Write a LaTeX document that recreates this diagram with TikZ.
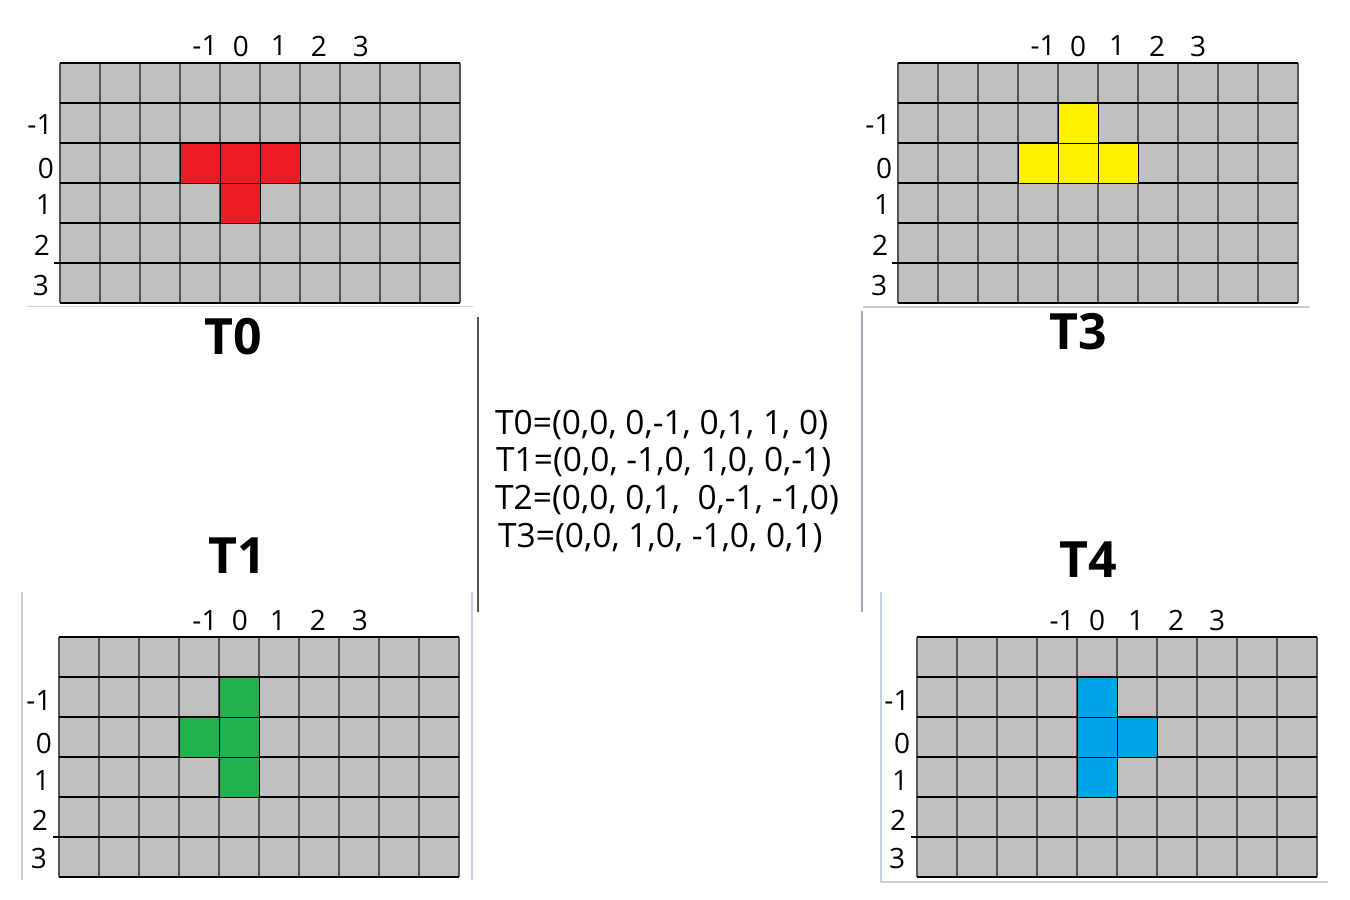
\documentclass[tikz,border=0pt]{standalone}
\usepackage{fontspec}
\setmainfont{Open Sans}
\definecolor{cellgray}{RGB}{192,192,192}
\definecolor{linegray}{RGB}{85,85,85}
\definecolor{paneedge}{RGB}{200,208,222}
\definecolor{tred}{RGB}{237,28,36}
\definecolor{tyellow}{RGB}{255,242,0}
\definecolor{tgreen}{RGB}{34,177,76}
\definecolor{tblue}{RGB}{0,162,232}

\begin{document}
\begin{tikzpicture}[x=1pt,y=-1pt,
  vline/.style={draw=linegray,line width=1.6pt},
  hline/.style={draw=black,line width=1.1pt},
  seam/.style={draw=black,line width=2pt},
  block/.style={draw=black,line width=0.8pt},
  tick/.style={inner sep=0pt,font=\fontsize{28}{32}\selectfont},
  title/.style={inner sep=0pt,font=\fontsize{50}{58}\selectfont\bfseries},
  formula/.style={inner sep=0pt,anchor=west,font=\fontsize{33.5}{38}\selectfont},
  edge/.style={draw=paneedge,line width=1.5pt}]
\path[use as bounding box] (0,0) rectangle (1350,900);
\fill[white] (0,0) rectangle (1350,900);

% T0, top left
\begin{scope}[shift={(60,63)},name prefix=t0-]
\fill[cellgray] (0,0) rectangle (400,240);
\foreach \c in {0,...,10} \draw[vline] (\c*40,0) -- (\c*40,240);
\foreach \r in {0,...,6} \draw[hline] (0,\r*40) -- (400,\r*40);
\draw[hline] (-6,200) -- (0,200);
\draw[seam] (42,80) -- (118,80);
\draw[seam] (210,80) -- (280,80);
\fill[tred,block] (120,80) rectangle (160,120);
\fill[tred,block] (160,80) rectangle (200,120);
\fill[tred,block] (200,80) rectangle (240,120);
\fill[tred,block] (160,120) rectangle (200,160);
\foreach \x/\t [count=\i] in {145/-1,181/0,219/1,259/2,301/3}
  \node[tick] (col\i) at (\x,-17) {\t};
\foreach \x/\y/\t [count=\i] in {-20/62/-1,-14/105/0,-16/142/1,-18/182/2,-19/222/3}
  \node[tick] (row\i) at (\x,\y) {\t};
\end{scope}
\node[title] (t0) at (233,337) {T0};

% T3, top right
\begin{scope}[shift={(898,63)},name prefix=t3-]
\fill[cellgray] (0,0) rectangle (400,240);
\foreach \c in {0,...,10} \draw[vline] (\c*40,0) -- (\c*40,240);
\foreach \r in {0,...,6} \draw[hline] (0,\r*40) -- (400,\r*40);
\draw[hline] (-6,200) -- (0,200);
\draw[seam] (42,80) -- (118,80);
\draw[seam] (210,80) -- (280,80);
\fill[tyellow,block] (160,40) rectangle (200,80);
\fill[tyellow,block] (120,80) rectangle (160,120);
\fill[tyellow,block] (160,80) rectangle (200,120);
\fill[tyellow,block] (200,80) rectangle (240,120);
\foreach \x/\t [count=\i] in {145/-1,180/0,219/1,259/2,300/3}
  \node[tick] (col\i) at (\x,-17) {\t};
\foreach \x/\y/\t [count=\i] in {-20/62/-1,-14/105/0,-16/142/1,-18/182/2,-19/222/3}
  \node[tick] (row\i) at (\x,\y) {\t};
\end{scope}
\node[title] (t3) at (1078,332) {T3};

% T1, bottom left
\begin{scope}[shift={(59,637)},name prefix=t1-]
\fill[cellgray] (0,0) rectangle (400,240);
\foreach \c in {0,...,10} \draw[vline] (\c*40,0) -- (\c*40,240);
\foreach \r in {0,...,6} \draw[hline] (0,\r*40) -- (400,\r*40);
\draw[hline] (-6,200) -- (0,200);
\draw[seam] (42,80) -- (118,80);
\draw[seam] (210,80) -- (280,80);
\fill[tgreen,block] (160,40) rectangle (200,80);
\fill[tgreen,block] (120,80) rectangle (160,120);
\fill[tgreen,block] (160,80) rectangle (200,120);
\fill[tgreen,block] (160,120) rectangle (200,160);
\foreach \x/\t [count=\i] in {146/-1,181/0,219/1,259/2,301/3}
  \node[tick] (col\i) at (\x,-17) {\t};
\foreach \x/\y/\t [count=\i] in {-20/63/-1,-15/106/0,-17/143/1,-19/183/2,-20/221/3}
  \node[tick] (row\i) at (\x,\y) {\t};
\end{scope}
\node[title] (t1) at (237,556) {T1};

% T4, bottom right
\begin{scope}[shift={(917,637)},name prefix=t4-]
\fill[cellgray] (0,0) rectangle (400,240);
\foreach \c in {0,...,10} \draw[vline] (\c*40,0) -- (\c*40,240);
\foreach \r in {0,...,6} \draw[hline] (0,\r*40) -- (400,\r*40);
\draw[hline] (-6,200) -- (0,200);
\draw[seam] (42,80) -- (118,80);
\draw[seam] (210,80) -- (280,80);
\fill[tblue,block] (160,40) rectangle (200,80);
\fill[tblue,block] (160,80) rectangle (200,120);
\fill[tblue,block] (200,80) rectangle (240,120);
\fill[tblue,block] (160,120) rectangle (200,160);
\foreach \x/\t [count=\i] in {145/-1,180/0,219/1,259/2,300/3}
  \node[tick] (col\i) at (\x,-17) {\t};
\foreach \x/\y/\t [count=\i] in {-20/63/-1,-15/106/0,-17/143/1,-19/183/2,-20/221/3}
  \node[tick] (row\i) at (\x,\y) {\t};
\end{scope}
\node[title] (t4) at (1088,560) {T4};

% pane edges
\draw[edge] (27,306.5) -- (473,306.5);
\draw[edge] (863,307) -- (1310,307);
\draw[edge] (22,592) -- (22,880);
\draw[edge] (472,592) -- (472,880);
\draw[edge] (881,592) -- (881,882);
\draw[edge] (880,882) -- (1328,882);
\draw[linegray,line width=1.5pt] (478,317) -- (478,612);
\draw[paneedge!80!black,line width=2pt] (862,311) -- (862,612);

% offsets
\node[formula] (f0) at (495,425) {T0=(0,0, 0,-1, 0,1, 1, 0)};
\node[formula] (f1) at (496,462) {T1=(0,0, -1,0, 1,0, 0,-1)};
\node[formula] (f2) at (495,500) {T2=(0,0, 0,1, \ 0,-1, -1,0)};
\node[formula] (f3) at (498,538) {T3=(0,0, 1,0, -1,0, 0,1)};
\end{tikzpicture}
\end{document}
